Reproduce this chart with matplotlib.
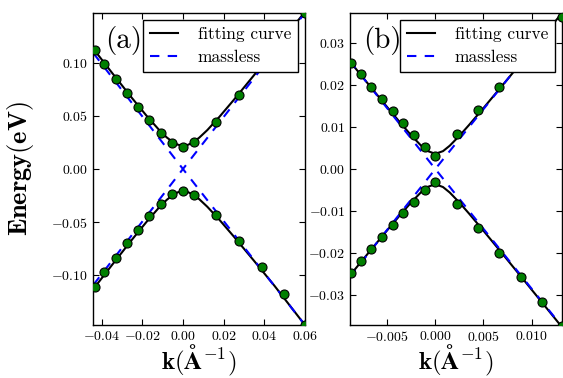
import matplotlib
matplotlib.use('Agg')
import matplotlib.pyplot as plt
from matplotlib.ticker import MultipleLocator, FuncFormatter

plt.rcParams['font.family'] = 'serif'
plt.rcParams['font.serif'] = ['cmr10']
plt.rcParams['mathtext.fontset'] = 'cm'
plt.rcParams['axes.unicode_minus'] = False

# panel (a): data points
k_a = [-0.0433, -0.0387, -0.0331, -0.0277, -0.0222, -0.0165, -0.0109, -0.0055,
       0.0, 0.0056, 0.0165, 0.0276, 0.0387, 0.0495, 0.0598]
e_a_up = [0.1123, 0.0991, 0.0852, 0.0717, 0.0585, 0.0459, 0.0340, 0.0248,
          0.0210, 0.0252, 0.0446, 0.0698, 0.096, 0.121, 0.147]
e_a_dn = [-0.1113, -0.0975, -0.0840, -0.0701, -0.0573, -0.0446, -0.0333, -0.0239,
          -0.0205, -0.0245, -0.0434, -0.0676, -0.0927, -0.1176, -0.147]

# panel (a): fitting curve
kf_a = [-0.044, -0.035, -0.025, -0.018, -0.012, -0.008, -0.005, -0.0025, 0.0,
        0.0025, 0.005, 0.008, 0.012, 0.018, 0.025, 0.035, 0.045, 0.06]
ef_a_up = [0.1131, 0.0909, 0.0667, 0.0504, 0.0374, 0.0298, 0.0254, 0.0229, 0.0220,
           0.0228, 0.0252, 0.0295, 0.0367, 0.0493, 0.0651, 0.0885, 0.1124, 0.148]
ef_a_dn = [-0.1129, -0.0907, -0.0664, -0.0500, -0.0368, -0.0291, -0.0245, -0.0219, -0.0210,
           -0.0218, -0.0242, -0.0284, -0.0356, -0.0480, -0.0636, -0.0866, -0.1100, -0.147]

# panel (a): massless lines
km_a = [-0.044, 0.0, 0.06]
em_a_up = [0.109, 0.0, 0.147]
em_a_dn = [-0.109, 0.0, -0.147]

# panel (b): data points
k_b = [-0.00875, -0.00775, -0.00665, -0.00552, -0.00441, -0.00331, -0.00221, -0.00111,
       0.0, 0.00223, 0.00444, 0.00661, 0.00884, 0.01105, 0.01312]
e_b_up = [0.02526, 0.02242, 0.0195, 0.01659, 0.01374, 0.01081, 0.00806, 0.00528,
          0.00315, 0.00829, 0.01389, 0.01943, 0.0252, 0.0307, 0.0361]
e_b_dn = [-0.02464, -0.02173, -0.01889, -0.01604, -0.01327, -0.01043, -0.00775, -0.00507,
          -0.00308, -0.00839, -0.01408, -0.01983, -0.02569, -0.03145, -0.0373]

# panel (b): fitting curve
kf_b = [-0.0089, -0.007, -0.005, -0.0035, -0.0025, -0.0015, -0.0008, 0.0,
        0.0008, 0.0015, 0.0025, 0.0035, 0.005, 0.007, 0.0095, 0.0132]
ef_b_up = [0.02562, 0.02027, 0.0147, 0.01061, 0.00799, 0.0056, 0.00427, 0.0036,
           0.00424, 0.00553, 0.00787, 0.01044, 0.01446, 0.01993, 0.02685, 0.03713]
ef_b_dn = [-0.02536, -0.02007, -0.01455, -0.01051, -0.00792, -0.00555, -0.00425, -0.0036,
           -0.00428, -0.00558, -0.00796, -0.01057, -0.01465, -0.0202, -0.02722, -0.03766]

# panel (b): massless lines
km_b = [-0.0089, 0.0, 0.0132]
em_b_up = [0.0257, 0.0, 0.0375]
em_b_dn = [-0.0257, 0.0, -0.0375]


def fmt(nd):
    def f(v, pos):
        v = round(v, nd) + 0.0
        return r'$%.*f$' % (nd, v)
    return FuncFormatter(f)


def draw_panel(ax, k, up, dn, kf, fup, fdn, km, mup, mdn, tag):
    ax.plot(kf, fup, color='black', lw=1.5, label='fitting curve', zorder=2)
    ax.plot(kf, fdn, color='black', lw=1.5, zorder=2)
    ax.plot(km, mup, color='#0000ff', lw=1.5, ls=(0, (4.5, 4)), label='massless', zorder=2)
    ax.plot(km, mdn, color='#0000ff', lw=1.5, ls=(0, (4.5, 4)), zorder=2)
    for e in (up, dn):
        ax.plot(k, e, 'o', color='#007f00', mec='black', mew=0.8, ms=6.5, zorder=3)
    ax.tick_params(direction='in', top=True, right=True, length=4, width=0.8,
                   labelsize=10)
    leg = ax.legend(loc='upper right', bbox_to_anchor=(0.967, 0.978), borderaxespad=0,
                    fancybox=False, framealpha=1, edgecolor='black', fontsize=12.5,
                    handlelength=1.6, handletextpad=1.15, labelspacing=0.45)
    leg.get_frame().set_linewidth(1.0)
    leg.set_zorder(5)
    ax.text(0.06, 0.913, tag, transform=ax.transAxes, fontsize=21, ha='left', va='center')
    ax.set_xlabel(r'$\mathbf{k(\AA^{-1})}$', fontsize=18)
    ax.xaxis.set_label_coords(0.5, -0.058)
    for s in ax.spines.values():
        s.set_linewidth(1.0)


fig = plt.figure(figsize=(5.63, 3.78), dpi=100)
ax1 = fig.add_axes([0.165, 0.1402, 0.3766, 0.8254])
ax2 = fig.add_axes([0.6217, 0.1402, 0.3766, 0.8254])

draw_panel(ax1, k_a, e_a_up, e_a_dn, kf_a, ef_a_up, ef_a_dn, km_a, em_a_up, em_a_dn, '(a)')
ax1.set_xlim(-0.0443, 0.06)
ax1.set_ylim(-0.147, 0.147)
ax1.xaxis.set_major_locator(MultipleLocator(0.02))
ax1.yaxis.set_major_locator(MultipleLocator(0.05))
ax1.xaxis.set_major_formatter(fmt(2))
ax1.yaxis.set_major_formatter(fmt(2))
ax1.set_ylabel(r'$\mathbf{Energy(eV)}$', fontsize=19)
ax1.yaxis.set_label_coords(-0.27, 0.5)

draw_panel(ax2, k_b, e_b_up, e_b_dn, kf_b, ef_b_up, ef_b_dn, km_b, em_b_up, em_b_dn, '(b)')
ax2.set_xlim(-0.00885, 0.01315)
ax2.set_ylim(-0.037, 0.037)
ax2.xaxis.set_major_locator(MultipleLocator(0.005))
ax2.yaxis.set_major_locator(MultipleLocator(0.01))
ax2.xaxis.set_major_formatter(fmt(3))
ax2.yaxis.set_major_formatter(fmt(2))

fig.savefig('out.png', dpi=100)
